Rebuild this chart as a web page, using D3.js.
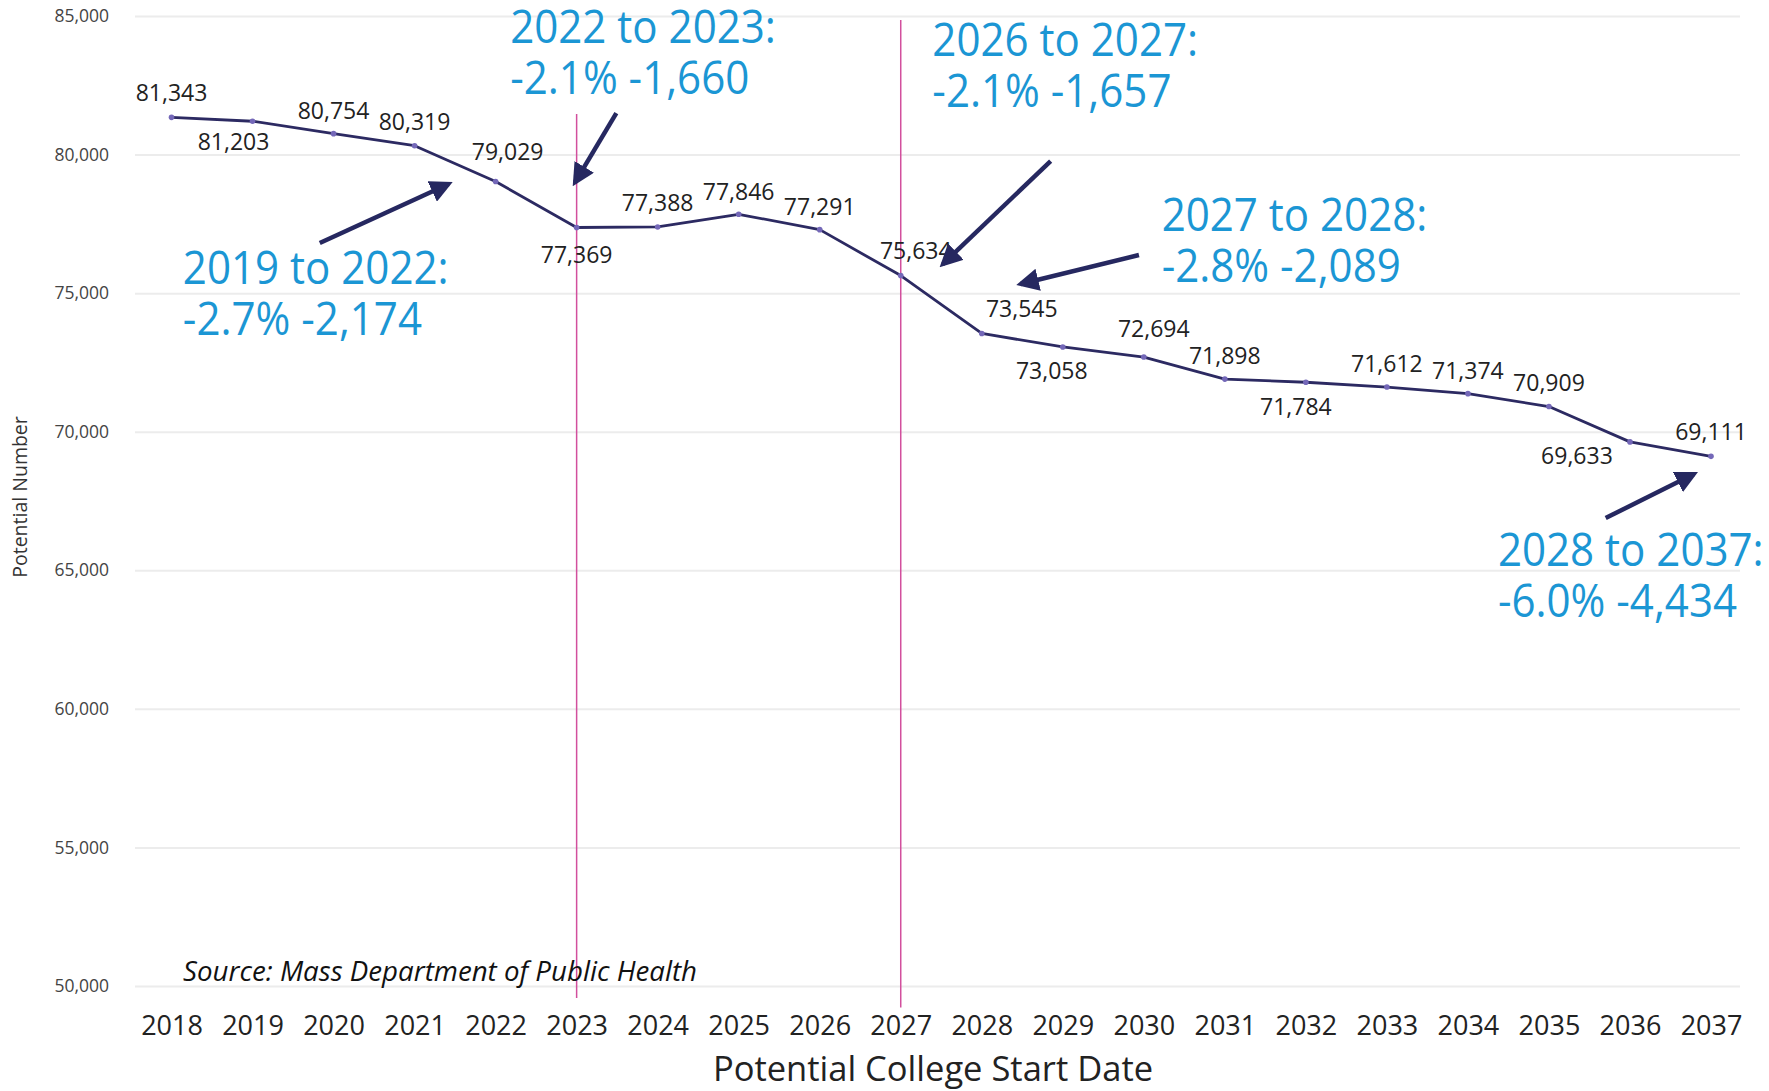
<!DOCTYPE html>
<html>
<head>
  <title>Potential College Start</title>
  <script src="https://cdn.jsdelivr.net/npm/d3@7"></script>
  <style>
    body { margin: 0; background: #fff; }
    text { font-family: "Open Sans", sans-serif; }
  </style>
</head>
<body>
  <svg width="1769" height="1091" id="mainsvg"></svg>
  <script>
    // data
    const years = [2018, 2019, 2020, 2021, 2022, 2023, 2024, 2025, 2026, 2027,
                   2028, 2029, 2030, 2031, 2032, 2033, 2034, 2035, 2036, 2037];
    const values = [81343, 81203, 80754, 80319, 79029, 77369, 77388, 77846, 77291, 75634,
                    73545, 73058, 72694, 71898, 71784, 71612, 71374, 70909, 69633, 69111];
    const yTicks = [50000, 55000, 60000, 65000, 70000, 75000, 80000, 85000];

    // where each value label sits relative to its point (px)
    const labelOffsets = [[0, -24], [-19, 21], [0, -23], [0, -24], [12, -30], [0, 27], [0, -24], [0, -22], [0, -23], [15, -25],
                          [40, -25], [-11, 24], [10, -28], [0, -23], [-10, 25], [0, -23], [0, -23], [0, -24], [-53, 14], [0, -24]];

    // annotations, placed in data units (year, value)
    const annotations = [
      {lines: ['2019 to 2022:', '-2.7% -2,174'], at: [2018.14, 75330], from: [2019.83, 76810], to: [2021.42, 78940]},
      {lines: ['2022 to 2023:', '-2.1% -1,660'], at: [2022.18, 84023], from: [2023.49, 81498], to: [2022.98, 78998]},
      {lines: ['2026 to 2027:', '-2.1% -1,657'], at: [2027.39, 83554], from: [2028.85, 79766], to: [2027.52, 76050]},
      {lines: ['2027 to 2028:', '-2.8% -2,089'], at: [2030.22, 77240], from: [2029.94, 76376], to: [2028.48, 75330]},
      {lines: ['2028 to 2037:', '-6.0% -4,434'], at: [2034.37, 65154], from: [2035.70, 66885], to: [2036.79, 68473]}
    ];

    const svg = d3.select('#mainsvg');
    const width = +svg.attr('width');
    const height = +svg.attr('height');

    const x = d3.scaleLinear().domain([2018, 2037]).range([171.5, 1711]);
    const y = d3.scaleLinear().domain([50000, 85000]).range([986, 16]);

    svg.append('rect').attr('width', width).attr('height', height).attr('fill', '#fff');

    // y axis + gridlines
    const yAxis = svg.append('g')
      .attr('transform', 'translate(135,0)')
      .call(d3.axisLeft(y).tickValues(yTicks).tickFormat(d3.format(',')).tickSize(-1605).tickPadding(26));
    yAxis.select('.domain').remove();
    yAxis.selectAll('.tick line').attr('stroke', '#ececec').attr('stroke-width', 2);
    yAxis.selectAll('.tick text')
      .attr('font-family', '"Open Sans", sans-serif')
      .attr('font-size', 17.5)
      .attr('fill', '#444');

    // x axis
    const xAxis = svg.append('g')
      .attr('transform', 'translate(0,986)')
      .call(d3.axisBottom(x).tickValues(years).tickFormat(d3.format('d')).tickSize(0).tickPadding(30));
    xAxis.select('.domain').remove();
    xAxis.selectAll('.tick text')
      .attr('font-family', '"Open Sans", sans-serif')
      .attr('font-size', 27)
      .attr('fill', '#222');

    // axis titles
    svg.append('text')
      .attr('x', 933).attr('y', 1081)
      .attr('text-anchor', 'middle')
      .attr('font-size', 34.5).attr('fill', '#222')
      .text('Potential College Start Date');

    svg.append('text')
      .attr('transform', 'translate(27,497) rotate(-90)')
      .attr('text-anchor', 'middle')
      .attr('font-size', 19.5).attr('fill', '#333')
      .text('Potential Number');

    // vertical markers
    svg.append('line')
      .attr('x1', x(2023)).attr('x2', x(2023))
      .attr('y1', y(81460)).attr('y2', y(49570))
      .attr('stroke', '#d24f9d').attr('stroke-width', 1.5);
    svg.append('line')
      .attr('x1', x(2027)).attr('x2', x(2027))
      .attr('y1', y(84860)).attr('y2', y(49220))
      .attr('stroke', '#d24f9d').attr('stroke-width', 1.5);

    // source
    svg.append('text')
      .attr('x', 183).attr('y', 981)
      .attr('font-size', 28).attr('font-style', 'italic').attr('fill', '#111')
      .attr('textLength', 514).attr('lengthAdjust', 'spacingAndGlyphs')
      .text('Source: Mass Department of Public Health');

    // line
    const line = d3.line().x((d, i) => x(years[i])).y(d => y(d));
    svg.append('path')
      .datum(values)
      .attr('d', line)
      .attr('fill', 'none')
      .attr('stroke', '#2c2a62')
      .attr('stroke-width', 2.8)
      .attr('stroke-linejoin', 'round');

    svg.append('g').selectAll('circle').data(values).join('circle')
      .attr('cx', (d, i) => x(years[i]))
      .attr('cy', d => y(d))
      .attr('r', 2.8)
      .attr('fill', '#7468b8');

    // value labels
    svg.append('g').selectAll('text').data(values).join('text')
      .attr('x', (d, i) => x(years[i]) + labelOffsets[i][0])
      .attr('y', (d, i) => y(d) + labelOffsets[i][1])
      .attr('dy', '0.35em')
      .attr('text-anchor', 'middle')
      .attr('font-size', 23)
      .attr('fill', '#222')
      .text(d => d3.format(',')(d));

    // arrows
    const defs = svg.append('defs');
    defs.append('marker')
      .attr('id', 'arrowhead')
      .attr('viewBox', '0 0 10 10')
      .attr('refX', 8).attr('refY', 5)
      .attr('markerWidth', 5).attr('markerHeight', 5)
      .attr('markerUnits', 'strokeWidth')
      .attr('orient', 'auto')
      .append('path')
      .attr('d', 'M0,0 L10,5 L0,10 Z')
      .attr('fill', '#262860');

    svg.append('g').selectAll('line').data(annotations).join('line')
      .attr('x1', d => x(d.from[0])).attr('y1', d => y(d.from[1]))
      .attr('x2', d => x(d.to[0])).attr('y2', d => y(d.to[1]))
      .attr('stroke', '#262860')
      .attr('stroke-width', 4.5)
      .attr('marker-end', 'url(#arrowhead)');

    // annotation text
    const ann = svg.append('g').selectAll('text').data(annotations).join('text')
      .attr('transform', d => `translate(${x(d.at[0])},${y(d.at[1])}) scale(0.915,1)`)
      .attr('font-size', 46)
      .attr('fill', '#1b96d4');
    ann.selectAll('tspan').data(d => d.lines).join('tspan')
      .attr('x', 0)
      .attr('dy', (d, i) => i === 0 ? 0 : '1.1em')
      .text(d => d);
  </script>
</body>
</html>
